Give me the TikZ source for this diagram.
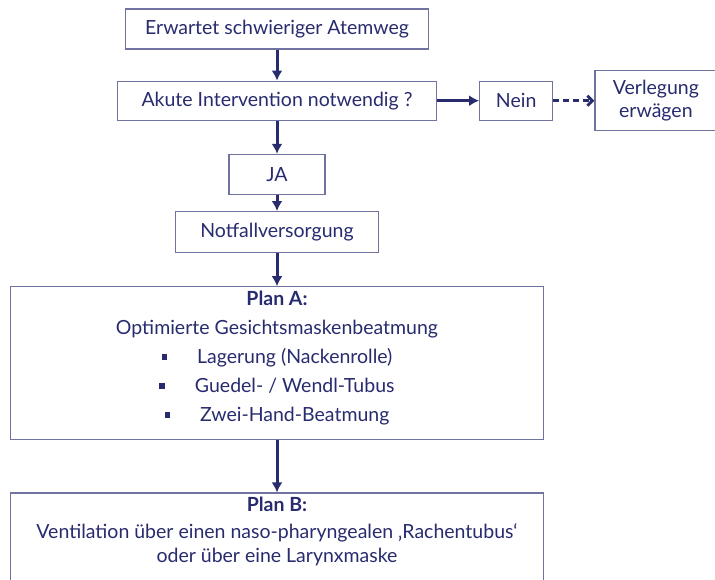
\documentclass[tikz,border=0pt]{standalone}
\usepackage{fontspec}
\setmainfont{Lato}
\usepackage{tikz}
\usetikzlibrary{arrows.meta,positioning}

\definecolor{navy}{RGB}{40,44,110}
\definecolor{rahmen}{RGB}{112,114,160}
\newcommand{\sqbul}{\raisebox{3.5pt}{\rule{5.5pt}{5.5pt}}\hspace{30pt}}

\begin{document}
\begin{tikzpicture}[x=1pt, y=1pt, node distance=31pt,
		every node/.style={font=\fontsize{19.5}{23}\selectfont, text=navy},
		box/.style={draw=rahmen, line width=1.2pt, inner sep=0pt, align=center, fill=white},
		pfeil/.style={-{Latex[length=10pt,width=11pt]}, line width=3pt, navy},
		strich/.style={-{Straight Barb[length=5pt,width=10pt]}, line width=2.8pt, navy, dash pattern=on 6pt off 4pt}]
	\useasboundingbox (0,0) rectangle (715,-579);
	\node[box, minimum width=303pt, minimum height=40pt] (start) at (277,-29) {Erwartet schwieriger Atemweg};
	\node[box, minimum width=319pt, minimum height=39pt, below=31pt of start] (akut) {Akute Intervention notwendig ?};
	\node[box, minimum width=73pt, minimum height=39pt, right=42pt of akut] (nein) {Nein};
	\node[box, minimum width=122pt, minimum height=60pt, right=41pt of nein] (verl) {Verlegung\\erwägen};
	\node[box, minimum width=96pt, minimum height=40pt, below=33pt of akut] (ja) {JA};
	\node[box, minimum width=203pt, minimum height=41pt, below=16pt of ja] (notf) {Notfallversorgung};
	\node[box, minimum width=533pt, minimum height=153pt, text depth=15pt, below=33pt of notf] (planA) {\textbf{Plan A:}\\[6pt]
		Optimierte Gesichtsmaskenbeatmung\\[6pt]
		\sqbul Lagerung (Nackenrolle)\\[6pt]
		\sqbul Guedel- / Wendl-Tubus\\[6pt]
		\sqbul Zwei-Hand-Beatmung};
	\node[box, minimum width=533pt, text depth=60pt, below=52pt of planA, inner ysep=4pt] (planB) {\textbf{Plan B:}\\[4pt]
		Ventilation über einen naso-pharyngealen ‚Rachentubus‘\\[1pt]
		oder über eine Larynxmaske};

	\draw[pfeil] (start) -- (akut);
	\draw[pfeil] (akut) -- (nein);
	\draw[strich] (nein) -- (verl);
	\draw[pfeil] (akut) -- (ja);
	\draw[pfeil] (ja) -- (notf);
	\draw[pfeil] (notf) -- (planA);
	\draw[pfeil] (planA) -- (planB);
\end{tikzpicture}
\end{document}
